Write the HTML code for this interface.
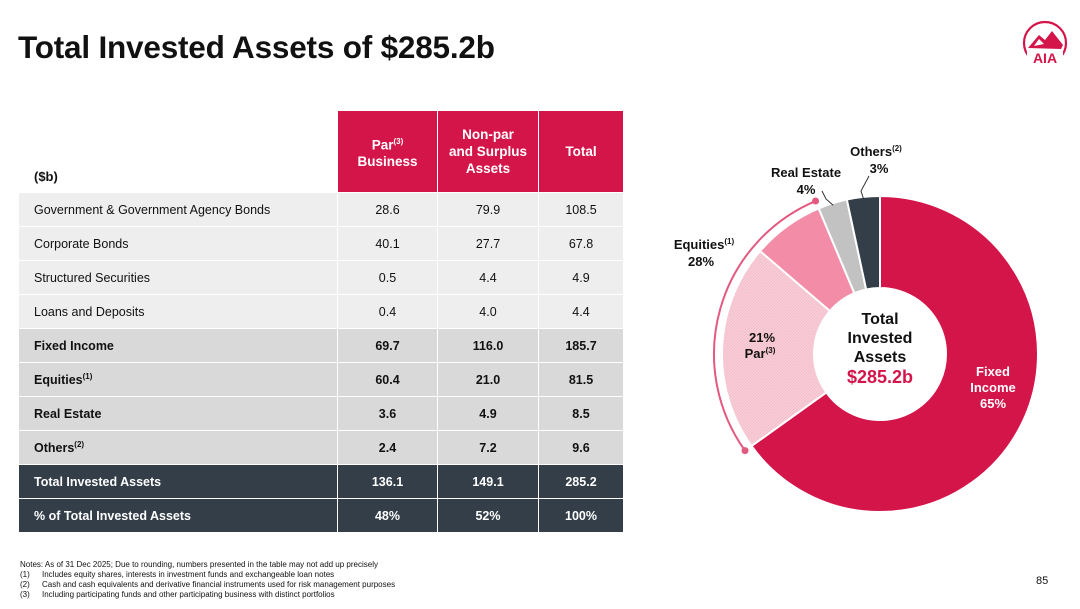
<!DOCTYPE html>
<html><head><meta charset="utf-8"><style>
body{margin:0;width:1080px;height:609px;background:#fff;font-family:"Liberation Sans",sans-serif;position:relative;overflow:hidden;color:#111}
h1{position:absolute;left:18px;top:29px;margin:0;font-size:31.5px;font-weight:bold;letter-spacing:-0.2px}
table{position:absolute;left:18px;top:110px;border-collapse:collapse;font-size:12.5px}
td{height:33px;border:1px solid #fff;padding:0;text-align:center}
td.l{text-align:left;padding-left:15px;width:303px}
td.c{width:99px}
tr.h td{height:73px}
tr.h td.p{background:#d4154a;color:#fff;font-weight:bold;font-size:13.5px;line-height:17px}
tr.h td.l{vertical-align:bottom;padding-bottom:8px;font-weight:bold;font-size:13px;background:#fff}
tr.a td{background:#efeeee}
tr.b td{background:#d9d9d9;font-weight:bold}
tr.d td{background:#333e48;color:#fff;font-weight:bold}
sup{font-size:8px}
.notes{position:absolute;left:20px;top:560px;font-size:8px;line-height:10px;color:#111}
.notes span{display:inline-block;width:22px}
.pg{position:absolute;left:1036px;top:575px;font-size:11px}
</style></head><body>
<h1>Total Invested Assets of $285.2b</h1>
<svg style="position:absolute;left:1020px;top:18px" width="50" height="50" viewBox="0 0 50 50">
<circle cx="25" cy="25" r="21" fill="none" stroke="#d4154a" stroke-width="2.2"/>
<path d="M8 30 L19 17 L25 22 L32 13 L43 27 L41 31 Z" fill="#d4154a"/>
<path d="M14 28 L19 21 L24 26 Z" fill="#fff"/>
<rect x="7" y="31" width="36" height="17" fill="#fff"/>
<text x="25" y="45" text-anchor="middle" font-size="14" font-weight="bold" fill="#d4154a" font-family="Liberation Sans">AIA</text>
</svg>
<table>
<tr class="h"><td class="l">($b)</td><td class="c p">Par<sup>(3)</sup><br>Business</td><td class="c p" style="width:100px">Non-par<br>and Surplus<br>Assets</td><td class="c p" style="width:84px">Total</td></tr>
<tr class="a"><td class="l">Government &amp; Government Agency Bonds</td><td>28.6</td><td>79.9</td><td>108.5</td></tr>
<tr class="a"><td class="l">Corporate Bonds</td><td>40.1</td><td>27.7</td><td>67.8</td></tr>
<tr class="a"><td class="l">Structured Securities</td><td>0.5</td><td>4.4</td><td>4.9</td></tr>
<tr class="a"><td class="l">Loans and Deposits</td><td>0.4</td><td>4.0</td><td>4.4</td></tr>
<tr class="b"><td class="l">Fixed Income</td><td>69.7</td><td>116.0</td><td>185.7</td></tr>
<tr class="b"><td class="l">Equities<sup>(1)</sup></td><td>60.4</td><td>21.0</td><td>81.5</td></tr>
<tr class="b"><td class="l">Real Estate</td><td>3.6</td><td>4.9</td><td>8.5</td></tr>
<tr class="b"><td class="l">Others<sup>(2)</sup></td><td>2.4</td><td>7.2</td><td>9.6</td></tr>
<tr class="d"><td class="l">Total Invested Assets</td><td>136.1</td><td>149.1</td><td>285.2</td></tr>
<tr class="d"><td class="l">% of Total Invested Assets</td><td>48%</td><td>52%</td><td>100%</td></tr>
</table>
<svg id="donut" style="position:absolute;left:0;top:0" width="1080" height="609">
<defs><pattern id="hatch" width="3" height="3" patternUnits="userSpaceOnUse"><rect width="3" height="3" fill="#f7cdd8"/><path d="M0 3L3 0" stroke="#f2b5c5" stroke-width="0.6"/></pattern></defs>
</svg>
<div class="notes">Notes: As of 31 Dec 2025; Due to rounding, numbers presented in the table may not add up precisely<br><span>(1)</span>Includes equity shares, interests in investment funds and exchangeable loan notes<br><span>(2)</span>Cash and cash equivalents and derivative financial instruments used for risk management purposes<br><span>(3)</span>Including participating funds and other participating business with distinct portfolios</div>
<div class="pg">85</div>
<script>
const segNames=["fixed-income","equities-par","equities-nonpar","real-estate","others"];
const segValues=[185.7,60.4,21.0,8.5,9.6];
const segColors=["#d4154a","url(#hatch)","#f28ca7","#c2c2c2","#333e48"];
const NS="http://www.w3.org/2000/svg";
const svg=document.getElementById('donut');
const cx=880,cy=354,R=158,r=66;
const total=segValues.reduce((a,b)=>a+b,0);
function pt(a,rad){return [cx+rad*Math.sin(a),cy-rad*Math.cos(a)];}
let acc=0;const angles=[];
segValues.forEach((v,i)=>{
 const a0=acc/total*2*Math.PI;acc+=v;const a1=acc/total*2*Math.PI;angles.push([a0,a1]);
 const lg=(a1-a0)>Math.PI?1:0;
 const p0=pt(a0,R),p1=pt(a1,R),q1=pt(a1,r),q0=pt(a0,r);
 const p=document.createElementNS(NS,'path');
 p.setAttribute('d',`M${p0}A${R},${R} 0 ${lg} 1 ${p1}L${q1}A${r},${r} 0 ${lg} 0 ${q0}Z`);
 p.setAttribute('fill',segColors[i]);p.setAttribute('stroke','#fff');p.setAttribute('stroke-width','2');
 
 
 svg.appendChild(p);
});
const ea0=angles[1][0],ea1=angles[2][1],RB=R+8;
const b0=pt(ea0,RB),b1=pt(ea1,RB);
const arc=document.createElementNS(NS,'path');
arc.setAttribute('d',`M${b0}A${RB},${RB} 0 0 1 ${b1}`);
arc.setAttribute('fill','none');arc.setAttribute('stroke','#e25a80');arc.setAttribute('stroke-width','2');


svg.appendChild(arc);
[b0,b1].forEach(b=>{const c=document.createElementNS(NS,'circle');c.setAttribute('cx',b[0]);c.setAttribute('cy',b[1]);c.setAttribute('r',3.5);c.setAttribute('fill','#e25a80');


svg.appendChild(c);});
[[3,[826,199],[822,191]],[4,[861,191],[869,176]]].forEach(l=>{
 const m=(angles[l[0]][0]+angles[l[0]][1])/2;const s=pt(m,R-2);
 const ln=document.createElementNS(NS,'polyline');
 ln.setAttribute('points',`${s} ${l[1]} ${l[2]}`);ln.setAttribute('fill','none');ln.setAttribute('stroke','#333');ln.setAttribute('stroke-width','1');
 
 
 svg.appendChild(ln);
});
function txt(x,y,html,col,size,name){
 const t=document.createElementNS(NS,'text');t.setAttribute('x',x);t.setAttribute('y',y);t.setAttribute('text-anchor','middle');
 t.setAttribute('font-family','Liberation Sans, sans-serif');t.setAttribute('font-weight','bold');t.setAttribute('font-size',size);t.setAttribute('fill',col);
 
 
 t.innerHTML=html;
 svg.appendChild(t);
}
txt(880,324,"Total","#111",16,"center-label-1");
txt(880,343,"Invested","#111",16,"center-label-2");
txt(880,362,"Assets","#111",16,"center-label-3");
txt(880,383,"$285.2b","#d4154a",18,"center-total");
txt(993,376,"Fixed","#fff",13,"label-fixed-income-1");
txt(993,392,"Income","#fff",13,"label-fixed-income-2");
txt(993,408,"65%","#fff",13,"label-fixed-income-3");
txt(762,342,"21%","#111",13,"label-par-1");
txt(760,358,"Par<tspan font-size='8' dy='-5'>(3)</tspan>","#111",13,"label-par-2");
txt(704,249,"Equities<tspan font-size='8' dy='-5'>(1)</tspan>","#111",13,"label-equities-1");
txt(701,266,"28%","#111",13,"label-equities-2");
txt(806,177,"Real Estate","#111",13,"label-real-estate-1");
txt(806,194,"4%","#111",13,"label-real-estate-2");
txt(876,156,"Others<tspan font-size='8' dy='-5'>(2)</tspan>","#111",13,"label-others-1");
txt(879,173,"3%","#111",13,"label-others-2");
</script>
</body></html>
